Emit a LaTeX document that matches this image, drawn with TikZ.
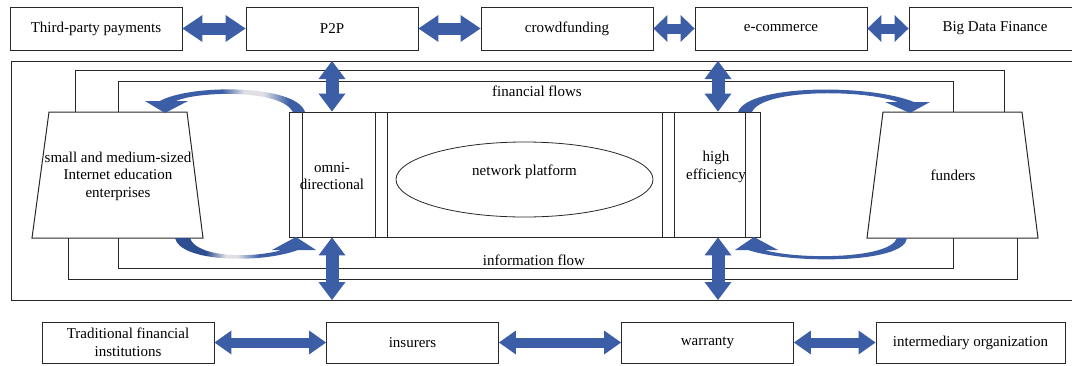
\documentclass[tikz,border=0pt]{standalone}
\usepackage{fontspec}
\setmainfont{Liberation Serif}
\usetikzlibrary{arrows.meta}
\definecolor{arrowblue}{RGB}{59,94,166}
\definecolor{arrowdark}{RGB}{45,78,145}
\definecolor{flowlight}{RGB}{222,224,230}
\definecolor{framegray}{RGB}{40,40,40}

% fills of the two left-hand curved arrows (blue with a pale band)
\pgfdeclarehorizontalshading{flowupper}{100bp}{color(0bp)=(arrowblue); color(49bp)=(arrowblue);
  color(56bp)=(flowlight); color(62bp)=(flowlight); color(70bp)=(arrowblue); color(100bp)=(arrowblue)}
\pgfdeclarehorizontalshading{flowlower}{100bp}{color(0bp)=(arrowdark); color(36bp)=(arrowdark);
  color(43bp)=(flowlight); color(47bp)=(flowlight); color(55bp)=(arrowblue); color(100bp)=(arrowblue)}

\begin{document}
\begin{tikzpicture}[x=1pt,y=-1pt,
  txt/.style={font=\fontsize{15}{17.5}\selectfont, align=center, inner sep=0pt},
  box/.style={txt, draw=framegray, line width=0.9pt, fill=white, minimum height=43pt, minimum width=172pt},
  frame/.style={draw=framegray, line width=1pt},
  harrow/.style={arrowblue, line width=12pt,
    {Triangle[width=27pt,length=20pt,line width=0pt]}-{Triangle[width=27pt,length=20pt,line width=0pt]}},
  hshort/.style={arrowblue, line width=10pt,
    {Triangle[width=27pt,length=14pt,line width=0pt]}-{Triangle[width=27pt,length=14pt,line width=0pt]}},
  varrow/.style={arrowblue, line width=13pt,
    {Triangle[width=27pt,length=18pt,line width=0pt]}-{Triangle[width=27pt,length=18pt,line width=0pt]}},
  barrow/.style={arrowblue, line width=10pt,
    {Triangle[width=24pt,length=17pt,line width=0pt]}-{Triangle[width=24pt,length=17pt,line width=0pt]}}]

\useasboundingbox (0,0) rectangle (1072,365);

% ---- top row of channels
\node[box] (tp)    at (96,28.5)  {Third-party payments};
\node[box] (p2p)   at (332,28.5) {P2P};
\node[box] (crowd) at (567,28.5) {crowdfunding};
\node[box] (ecom)  at (781,28.5) {e-commerce};
\node[box] (bdf)   at (995,28.5) {Big Data Finance};

\draw[harrow] (tp.east) -- (p2p.west);
\draw[harrow] (p2p.east) -- (crowd.west);
\draw[hshort] (crowd.east) -- (ecom.west);
\draw[hshort] (ecom.east) -- (bdf.west);

% ---- frames around the platform
\draw[frame] (1080,61.5) -- (11,61.5) -- (11,300.5) -- (1080,300.5);
\draw[frame] (75,112) -- (75,70) -- (1004,70) -- (1004,112);
\draw[frame] (68,238) -- (68,279) -- (1017,279) -- (1017,238);
\draw[frame] (118,81) rectangle (953,268);

% ---- the two sides
\draw[frame, fill=white] (49,112) -- (187,112) -- (203,238) -- (32,238) -- cycle;
\draw[frame, fill=white] (883,112) -- (1022,112) -- (1038,238) -- (867,238) -- cycle;
\node[txt] (sme) at (118,176) {small and medium-sized\\Internet education\\enterprises};
\node[txt] (fund) at (953,175) {funders};

% ---- network platform
\node[draw=framegray, line width=0.9pt, fill=white, minimum width=471pt, minimum height=125pt, inner sep=0pt] (plat) at (524.5,174.5) {};
\foreach \xx in {302,375,387,662,674,745}
  \draw[framegray, line width=0.9pt] (\xx,112) -- (\xx,237);
\draw[framegray, line width=0.8pt] (524.5,179.5) ellipse [x radius=128.5, y radius=37.5];
\node[txt] (np) at (524.5,172) {network platform};
\node[txt] (omni) at (332,176) {omni-\\directional};
\node[txt] (heff) at (716,167) {high\\efficiency};

\node[txt] (ff) at (537,91) {financial flows};
\node[txt] (inf) at (534,260) {information flow};

% ---- curved flow arrows
\shade[shading=flowupper]
  (305,112) .. controls (296,84) and (190,84) .. (160,101) -- (145,101) -- (165,113) -- (188,101) -- (176,101)
  .. controls (198,91) and (281,89) .. (293,112) -- cycle;
\shade[shading=flowlower]
  (175,238) .. controls (180,262) and (260,264) .. (298,250) -- (316,250) -- (296,237) -- (272,250) -- (282,250)
  .. controls (250,259) and (196,257) .. (190,238) -- cycle;
\fill[arrowblue]
  (738,112) .. controls (748,84) and (870,84) .. (914,102) -- (930,102) -- (910,113) -- (885,102) -- (898,102)
  .. controls (862,89) and (762,89) .. (752,112) -- cycle;
\fill[arrowblue]
  (907,238) .. controls (905,264) and (790,264) .. (748,250) -- (735,250) -- (754,237) -- (778,250) -- (764,250)
  .. controls (800,260) and (890,259) .. (897,238) -- cycle;

% ---- vertical links through the frames
\coordinate (ul) at (332,61);
\coordinate (ur) at (718,61);
\coordinate (dl) at (332,300);
\coordinate (dr) at (718,300);
\draw[varrow] (ul) -- (ul |- plat.north);
\draw[varrow] (ur) -- (ur |- plat.north);
\draw[varrow] (plat.south -| dl) -- (dl);
\draw[varrow] (plat.south -| dr) -- (dr);

% ---- bottom row of partners
\node[box, minimum height=41pt] (trad) at (128,342.5) {Traditional financial\\institutions};
\node[box, minimum height=41pt] (ins)  at (412.5,342.5) {insurers};
\node[box, minimum height=41pt] (war)  at (707.5,342.5) {warranty};
\node[box, minimum height=41pt, minimum width=189pt] (inter) at (970.5,342.5) {intermediary organization};

\draw[barrow] (trad.east) -- (ins.west);
\draw[barrow] (ins.east) -- (war.west);
\draw[barrow] (war.east) -- (inter.west);
\end{tikzpicture}
\end{document}
